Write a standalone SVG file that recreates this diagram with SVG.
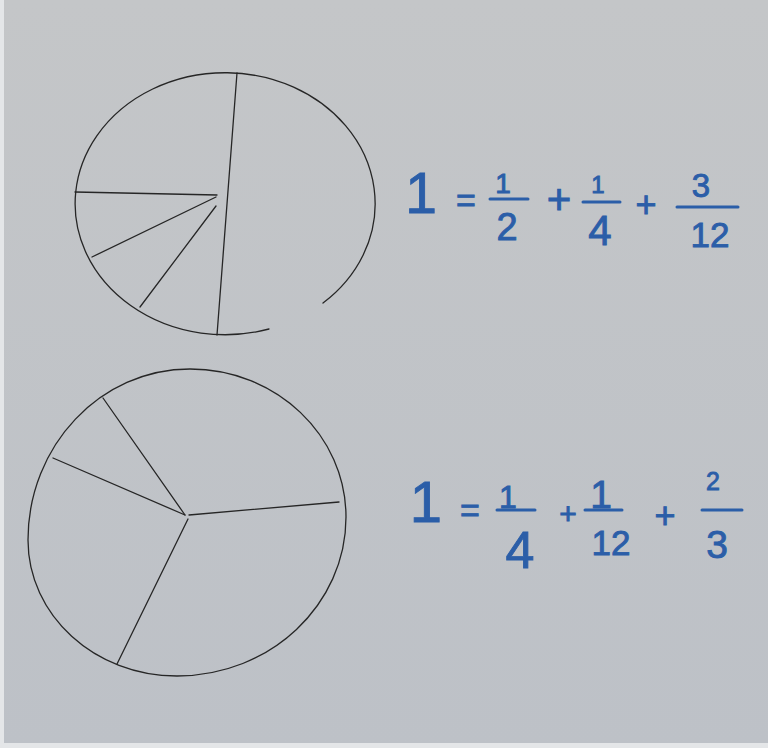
<svg xmlns="http://www.w3.org/2000/svg" width="768" height="748" viewBox="0 0 768 748">
  <defs>
    <linearGradient id="bg" x1="0" y1="0" x2="0" y2="1">
      <stop offset="0" stop-color="#c4c6c8"/>
      <stop offset="1" stop-color="#bdc1c7"/>
    </linearGradient>
    <style>
      .pen { fill: none; stroke: #262626; stroke-width: 1.3; stroke-linecap: round; stroke-linejoin: round; }
      .ink { fill: #2b5ea8; stroke: #2b5ea8; stroke-width: 0.9; font-family: "Liberation Sans", "DejaVu Sans", sans-serif; text-anchor: middle; }
      .bar { stroke: #2b5ea8; stroke-width: 3; stroke-linecap: round; }
    </style>
  </defs>
  <rect x="0" y="0" width="768" height="748" fill="url(#bg)"/>
  <rect x="0" y="0" width="4" height="748" fill="#e4e6e8"/>
  <rect x="0" y="743" width="768" height="5" fill="#e4e6e8"/>

  <g id="top-circle">
    <path class="pen" d="M269,329 A150,131 0 1 1 323,303"/>
    <line class="pen" x1="237" y1="73" x2="217" y2="335"/>
    <line class="pen" x1="75" y1="192" x2="217" y2="195"/>
    <line class="pen" x1="216" y1="197" x2="92" y2="257"/>
    <line class="pen" x1="216" y1="206" x2="140" y2="307"/>
  </g>

  <g id="bottom-circle">
    <path class="pen" d="M190,369 C276.2,369 346,435.3 346,517 C346,604.8 270.3,676 177,676 C94.7,676 28,615.1 28,540 C28,445.6 100.5,369 190,369 Z"/>
    <line class="pen" x1="185" y1="515" x2="103" y2="398"/>
    <line class="pen" x1="185" y1="515" x2="53" y2="458"/>
    <line class="pen" x1="189" y1="515" x2="339" y2="502"/>
    <line class="pen" x1="188" y1="519" x2="117" y2="664"/>
  </g>

  <g id="equation-top">
    <text class="ink" x="421" y="213" font-size="57">1</text>
    <text class="ink" x="466" y="212" font-size="34">=</text>
    <text class="ink" x="503" y="193" font-size="28">1</text>
    <line class="bar" x1="490" y1="199" x2="528" y2="199"/>
    <text class="ink" x="507" y="240" font-size="38">2</text>
    <text class="ink" x="559" y="214" font-size="42">+</text>
    <text class="ink" x="598" y="193" font-size="24">1</text>
    <line class="bar" x1="583" y1="202" x2="620" y2="202"/>
    <text class="ink" x="600" y="245" font-size="42">4</text>
    <text class="ink" x="646" y="217" font-size="36">+</text>
    <text class="ink" x="701" y="197" font-size="33">3</text>
    <line class="bar" x1="677" y1="207" x2="738" y2="207"/>
    <text class="ink" x="710" y="247" font-size="35">12</text>
  </g>

  <g id="equation-bottom">
    <text class="ink" x="426" y="522" font-size="58">1</text>
    <text class="ink" x="470" y="522" font-size="34">=</text>
    <text class="ink" x="508" y="508" font-size="32">1</text>
    <line class="bar" x1="497" y1="510" x2="535" y2="510"/>
    <text class="ink" x="520" y="568" font-size="52">4</text>
    <text class="ink" x="568" y="524" font-size="30">+</text>
    <text class="ink" x="601" y="508" font-size="39">1</text>
    <line class="bar" x1="585" y1="510" x2="622" y2="510"/>
    <text class="ink" x="611" y="555" font-size="35">12</text>
    <text class="ink" x="665" y="528" font-size="36">+</text>
    <text class="ink" x="713" y="490" font-size="25">2</text>
    <line class="bar" x1="702" y1="510" x2="742" y2="510"/>
    <text class="ink" x="717" y="558" font-size="39">3</text>
  </g>
</svg>
